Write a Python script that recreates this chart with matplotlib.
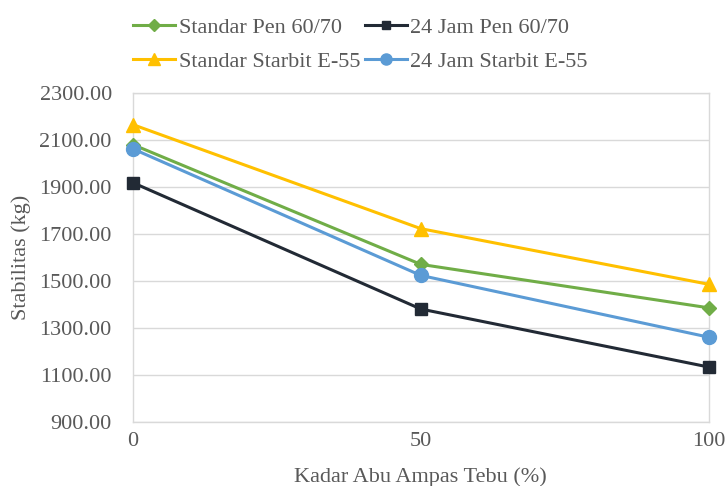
import numpy as np
import matplotlib.pyplot as plt

plt.rcParams['font.family'] = ['Liberation Serif', 'DejaVu Serif']

# kadar abu ampas tebu (%)
kadar = [0, 50, 100]

# stabilitas marshall (kg)
standar_pen = [2080, 1570, 1385]
jam24_pen = [1918, 1380, 1133]
standar_starbit = [2165, 1722, 1485]
jam24_starbit = [2062, 1523, 1260]

teks = '#595959'
garis = '#D9D9D9'

fig = plt.figure(figsize=(7.25, 4.86), dpi=100)
ax = fig.add_axes([0.183, 0.132, 0.795, 0.677])

l1, = ax.plot(kadar, standar_pen, color='#70AD47', lw=2.2, marker='D', ms=7.5, label='Standar Pen 60/70', zorder=3, clip_on=False)
l2, = ax.plot(kadar, jam24_pen, color='#222A35', lw=2.2, marker='s', ms=8, label='24 Jam Pen 60/70', zorder=3, clip_on=False)
l3, = ax.plot(kadar, standar_starbit, color='#FFC000', lw=2.2, marker='^', ms=10, label='Standar Starbit E-55', zorder=3, clip_on=False)
l4, = ax.plot(kadar, jam24_starbit, color='#5B9BD5', lw=2.2, marker='o', ms=10, label='24 Jam Starbit E-55', zorder=3, clip_on=False)

ax.set_xlim(0, 100)
ax.set_ylim(900, 2300)
ax.set_xticks([0, 50, 100])
ax.set_yticks(np.arange(900, 2301, 200))
ax.set_yticklabels(['%.2f' % v for v in np.arange(900, 2301, 200)])
ax.grid(axis='y', color=garis, lw=1)
for s in ax.spines.values():
    s.set_color(garis)
    s.set_linewidth(1)
ax.tick_params(length=0, labelsize=16, colors=teks)
ax.tick_params(axis='y', pad=15)
ax.tick_params(axis='x', pad=7)

ax.set_xlabel('Kadar Abu Ampas Tebu (%)', fontsize=16, color=teks, labelpad=12)
ax.set_ylabel('Stabilitas (kg)', fontsize=16, color=teks, labelpad=6)

# urutan baris: pen 60/70 di atas, starbit di bawah
fig.legend([l1, l3, l2, l4], [l1.get_label(), l3.get_label(), l2.get_label(), l4.get_label()],
           loc='upper center', bbox_to_anchor=(0.497, 1.005), ncol=2, frameon=False,
           fontsize=16, handlelength=1.9, handletextpad=0.15, columnspacing=0.2,
           labelspacing=0.6, labelcolor=teks, markerscale=0.8)

fig.savefig('out.png', dpi=100)
